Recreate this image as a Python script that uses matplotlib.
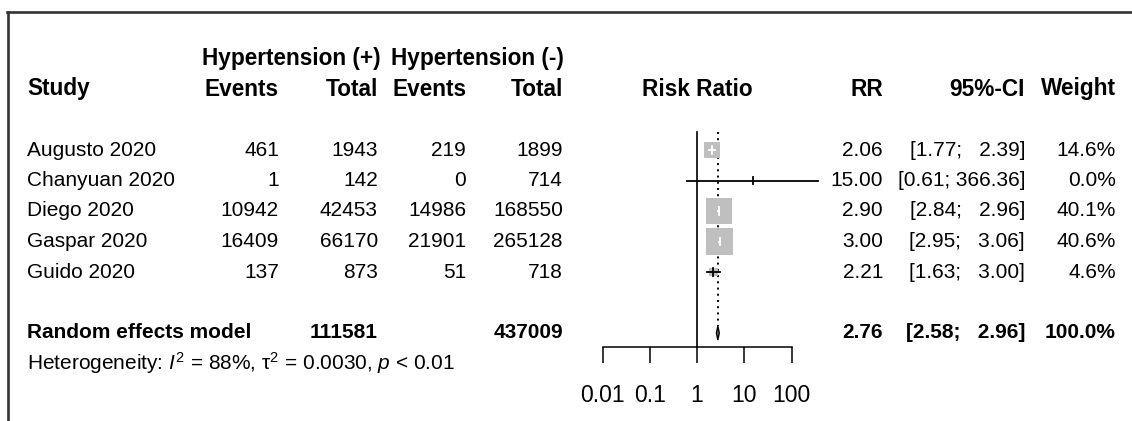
import matplotlib
matplotlib.use('Agg')
import numpy as np
import matplotlib.pyplot as plt
from matplotlib.lines import Line2D
from matplotlib.ticker import NullLocator
from matplotlib.transforms import blended_transform_factory

plt.rcParams['font.family'] = ['Liberation Sans', 'DejaVu Sans']
plt.rcParams['mathtext.fontset'] = 'custom'
plt.rcParams['mathtext.rm'] = 'Liberation Sans'
plt.rcParams['mathtext.it'] = 'Liberation Sans:italic'

studies = ['Augusto 2020', 'Chanyuan 2020', 'Diego 2020', 'Gaspar 2020', 'Guido 2020']
events_pos = [461, 1, 10942, 16409, 137]
total_pos = [1943, 142, 42453, 66170, 873]
events_neg = [219, 0, 14986, 21901, 51]
total_neg = [1899, 714, 168550, 265128, 718]
rr = [2.06, 15.00, 2.90, 3.00, 2.21]
ci_lo = [1.77, 0.61, 2.84, 2.95, 1.63]
ci_hi = [2.39, 366.36, 2.96, 3.06, 3.00]
weight = [14.6, 0.0, 40.1, 40.6, 4.6]

pooled_name = 'Random effects model'
pooled_total_pos = 111581
pooled_total_neg = 437009
pooled_rr = 2.76
pooled_lo = 2.58
pooled_hi = 2.96
pooled_weight = 100.0
het_text = r'Heterogeneity: $I^2$ = 88%, $\mathrm{\tau}^2$ = 0.0030, $p$ < 0.01'

null_value = 1
ticks = [0.01, 0.1, 1, 10, 100]
tick_labels = ['0.01', '0.1', '1', '10', '100']

# layout (pixels)
W, H = 1132, 421
row0_px, row_h = 150, 30.5
fs = 15
fs_head = 16.3

fig = plt.figure(figsize=(W / 100, H / 100), dpi=100)
ax = fig.add_axes([602.5 / W, 0, (791.5 - 602.5) / W, 1])
ax.set_xscale('log')
ax.set_xlim(0.01, 100)
ax.set_ylim((H - row0_px) / row_h, -row0_px / row_h)
ax.patch.set_visible(False)
for s in ['top', 'left', 'right']:
    ax.spines[s].set_visible(False)

y_rows = np.arange(len(studies))
y_pool = len(studies) + 1
y_het = y_pool + 1
y_axis = (347 - row0_px) / row_h
y_top = -0.6

ax.spines['bottom'].set_position(('data', y_axis))
ax.spines['bottom'].set_linewidth(1.1)
ax.set_xticks(ticks, tick_labels)
ax.xaxis.set_minor_locator(NullLocator())
ax.tick_params(axis='x', direction='out', length=11.5, width=1.1, pad=15, labelsize=16.5)
ax.set_yticks([])

# reference lines
ax.plot([null_value, null_value], [y_top, y_axis], color='black', lw=1.2, clip_on=False)
ax.plot([pooled_rr, pooled_rr], [y_top, y_pool - 0.23], color='black', lw=1.4,
        linestyle=(0, (1, 2.2)), clip_on=False)

# study boxes and CIs
decade_px = (791.5 - 602.5) / 4
side_px = 26 * np.sqrt(np.array(weight) / 40.1)
ax.scatter(rr, y_rows, marker='s', s=(side_px * 0.72) ** 2, color='#BFBFBF',
           edgecolors='none', zorder=3, clip_on=False)
for i in range(len(studies)):
    half = side_px[i] / 2 / decade_px
    inside = (np.log10(rr[i]) - np.log10(ci_lo[i]) < half) and (np.log10(ci_hi[i]) - np.log10(rr[i]) < half)
    col = 'white' if inside and weight[i] > 0 else 'black'
    ax.plot([ci_lo[i], ci_hi[i]], [y_rows[i], y_rows[i]], color=col, lw=1.3, zorder=4, clip_on=False)
    ax.plot([rr[i], rr[i]], [y_rows[i] - 0.13, y_rows[i] + 0.13], color=col, lw=1.3, zorder=4, clip_on=False)

# pooled diamond
dh = 0.23
ax.fill([pooled_lo, pooled_rr, pooled_hi, pooled_rr], [y_pool, y_pool - dh, y_pool, y_pool + dh],
        facecolor='gray', edgecolor='black', lw=1.0, zorder=4, clip_on=False)

# text columns
tr = blended_transform_factory(fig.transFigure, ax.transData)


def put(xpx, y, s, ha='right', bold=False, size=fs):
    ax.text(xpx / W, y, s, transform=tr, ha=ha, va='center', fontsize=size,
            fontweight='bold' if bold else 'normal', clip_on=False)


x_study, x_ep, x_tp, x_en, x_tn = 27, 279, 378, 466, 563
x_rr, x_ci, x_w = 883, 1025, 1116
events_w = 74

put((x_ep - events_w + x_tp) / 2, -3, 'Hypertension (+)', ha='center', bold=True, size=fs_head)
put((x_en - events_w + x_tn) / 2, -3, 'Hypertension (-)', ha='center', bold=True, size=fs_head)
put(x_study, -2, 'Study', ha='left', bold=True, size=fs_head)
put(x_ep, -2, 'Events', bold=True, size=fs_head)
put(x_tp, -2, 'Total', bold=True, size=fs_head)
put(x_en, -2, 'Events', bold=True, size=fs_head)
put(x_tn, -2, 'Total', bold=True, size=fs_head)
ax.text(null_value, -2, 'Risk Ratio', ha='center', va='center', fontsize=fs_head, fontweight='bold')
put(x_rr, -2, 'RR', bold=True, size=fs_head)
put(x_ci, -2, '95%-CI', bold=True, size=fs_head)
put(x_w, -2, 'Weight', bold=True, size=fs_head)

for i, name in enumerate(studies):
    y = y_rows[i]
    put(x_study, y, name, ha='left')
    put(x_ep, y, f'{events_pos[i]}')
    put(x_tp, y, f'{total_pos[i]}')
    put(x_en, y, f'{events_neg[i]}')
    put(x_tn, y, f'{total_neg[i]}')
    put(x_rr, y, f'{rr[i]:.2f}')
    put(x_ci, y, f'[{ci_lo[i]:.2f}; {ci_hi[i]:>6.2f}]')
    put(x_w, y, f'{weight[i]:.1f}%')

put(x_study, y_pool, pooled_name, ha='left', bold=True)
put(x_tp, y_pool, f'{pooled_total_pos}', bold=True)
put(x_tn, y_pool, f'{pooled_total_neg}', bold=True)
put(x_rr, y_pool, f'{pooled_rr:.2f}', bold=True)
put(x_ci, y_pool, f'[{pooled_lo:.2f}; {pooled_hi:>6.2f}]', bold=True)
put(x_w, y_pool, f'{pooled_weight:.1f}%', bold=True)
put(x_study, y_het, het_text, ha='left')

# screenshot frame
fig.add_artist(Line2D([8 / W, 8 / W], [0, 1 - 12 / H], transform=fig.transFigure, color='#333333', lw=1.9))
fig.add_artist(Line2D([7 / W, 1], [1 - 12 / H, 1 - 12 / H], transform=fig.transFigure, color='#333333', lw=1.9))

fig.savefig('out.png', dpi=100, facecolor='white')
